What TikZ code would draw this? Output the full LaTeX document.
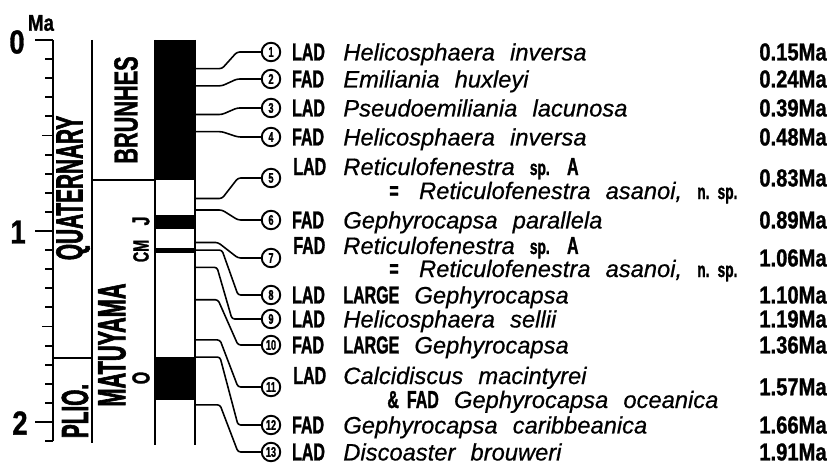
\documentclass[tikz,border=0pt]{standalone}
\usepackage{fontspec}
\setmainfont{Liberation Sans}[WordSpace=2.3,ItalicFeatures={FakeBold=0.6}]
\newfontfamily\condfont{Liberation Sans}[FakeStretch=0.65,FakeBold=1.2,WordSpace=1.8]
\newfontfamily\narrowfont{Liberation Sans}[FakeStretch=0.55,FakeBold=1.5]
\newfontfamily\valfont{Liberation Sans}[FakeStretch=0.82,FakeBold=1]
\usetikzlibrary{positioning}

\newcommand{\caps}[1]{{\condfont\bfseries\upshape\fontsize{14}{15}\selectfont #1}}
\newcommand{\spn}[1]{{\condfont\bfseries\upshape\fontsize{12}{12}\selectfont #1}}

\begin{document}
\begin{tikzpicture}[x=0.02cm,y=-0.02cm,
  colline/.style={line width=1.1pt},
  link/.style={line width=0.9pt,rounded corners=1.5pt},
  num/.style={circle,draw,line width=1.1pt,minimum size=0.37cm,inner sep=0pt,
    font=\condfont\bfseries\fontsize{8}{8}\selectfont},
  tag/.style={inner sep=0pt,font=\condfont\bfseries\fontsize{14}{15}\selectfont},
  taxon/.style={inner sep=0pt,anchor=base west,font=\itshape\fontsize{13.5}{15}\selectfont},
  age/.style={inner sep=0pt,anchor=east,font=\valfont\bfseries\fontsize{14}{15}\selectfont},
  big/.style={rotate=90,inner sep=0pt,font=\narrowfont\bfseries\fontsize{21.5}{22}\selectfont},
  small/.style={rotate=90,inner sep=0pt,font=\condfont\bfseries\fontsize{14}{14}\selectfont}]
  \useasboundingbox (0,0) rectangle (829,466);
  \coordinate (spx) at (343,0);
  \coordinate (valx) at (827,0);

  % time axis
  \draw[colline] (53,40) -- (53,441);
  \foreach \k in {0,...,21} \draw[colline] (53,{40+19.1*\k}) -- ++(-8,0);
  \foreach \k in {5,15} \draw[colline] (53,{40+19.1*\k}) -- ++(-11,0);
  \foreach \k in {0,10,20} \draw[colline] (53,{40+19.1*\k}) -- ++(-18,0);
  \node[inner sep=0pt,font=\valfont\bfseries\fontsize{19}{19}\selectfont] (l0) at (17,42) {0};
  \node[inner sep=0pt,font=\valfont\bfseries\fontsize{19}{19}\selectfont] (l1) at (18,232) {1};
  \node[inner sep=0pt,font=\valfont\bfseries\fontsize{19}{19}\selectfont] (l2) at (20,423) {2};
  \node[inner sep=0pt,font=\valfont\bfseries\fontsize{13}{13}\selectfont] (ma) at (41,23) {Ma};

  % epochs and chrons
  \draw[colline] (92,40) -- (92,443);
  \draw[colline] (53,358) -- (92,358);
  \draw[colline] (92,180) -- (155,180);
  \node[big] (quat) at (73,188) {QUATERNARY};
  \node[big] (plio) at (75,411) {PLIO.};
  \node[big,font=\condfont\bfseries\fontsize{19}{19}\selectfont] (brun) at (126,110) {BRUNHES};
  \node[big,font=\narrowfont\bfseries\fontsize{22.5}{22}\selectfont] (matu) at (112,345) {MATUYAMA};
  \node[small] (jar) at (141,221) {J};
  \node[small,font=\condfont\bfseries\fontsize{12.5}{12}\selectfont] (cobb) at (141,251) {CM};
  \node[small] (old) at (141,378) {O};

  % polarity column
  \fill (155,40) rectangle (195,180);
  \fill (155,215) rectangle (195,229);
  \fill (155,248) rectangle (195,253);
  \fill (155,357) rectangle (195,400);
  \draw[colline] (155,40) -- (155,445);
  \draw[colline] (195,40) -- (195,445);

  % datum levels
  \foreach \i/\yc/\lab/\txt/\val in {
    1/52/LAD/Helicosphaera inversa/0.15,
    2/79/FAD/Emiliania huxleyi/0.24,
    3/108/LAD/Pseudoemiliania lacunosa/0.39,
    4/137/FAD/Helicosphaera inversa/0.48,
    6/220/FAD/Gephyrocapsa parallela/0.89,
    8/295/LAD/\caps{LARGE} Gephyrocapsa/1.10,
    9/319/LAD/Helicosphaera sellii/1.19,
    10/345/FAD/\caps{LARGE} Gephyrocapsa/1.36,
    12/425/FAD/Gephyrocapsa caribbeanica/1.66,
    13/452/LAD/Discoaster brouweri/1.91}{
    \node[num] (c\i) at (271,\yc) {\i};
    \node[tag,right=6pt of c\i] (t\i) {\lab};
    \node[taxon] (n\i) at (t\i.base -| spx) {\txt};
    \node[age] (a\i) at (c\i -| valx) {\val Ma};
  }

  \node[num] (c5) at (271,178) {5};
  \node[tag,anchor=base west] (t5) at (293,175) {LAD};
  \node[taxon] (n5) at (t5.base -| spx) {Reticulofenestra \spn{sp.} \caps{A}};
  \node[taxon] (m5) at (389,199) {\caps{=}\hspace{3pt} Reticulofenestra asanoi, \spn{n. sp.}};
  \node[age] (a5) at (c5 -| valx) {0.83Ma};

  \node[num] (c7) at (271,258) {7};
  \node[tag,anchor=base west] (t7) at (293,254) {FAD};
  \node[taxon] (n7) at (t7.base -| spx) {Reticulofenestra \spn{sp.} \caps{A}};
  \node[taxon] (m7) at (389,277) {\caps{=}\hspace{3pt} Reticulofenestra asanoi, \spn{n. sp.}};
  \node[age] (a7) at (c7 -| valx) {1.06Ma};

  \node[num] (c11) at (271,387) {11};
  \node[tag,anchor=base west] (t11) at (293,384) {LAD};
  \node[taxon] (n11) at (t11.base -| spx) {Calcidiscus macintyrei};
  \node[taxon] (m11) at (387,408) {\caps{\& FAD} Gephyrocapsa oceanica};
  \node[age] (a11) at (c11 -| valx) {1.57Ma};

  % connectors from the column to the numbered levels
  \foreach \i/\t/\xa/\xb/\yc in {1/0.15/222/237/52, 2/0.24/222/237/79,
      3/0.39/222/237/108, 4/0.48/222/238/137, 5/0.83/222/238/178,
      6/0.89/222/238/220, 7/1.06/218/238/258, 8/1.10/222/238/295,
      9/1.19/217/232/319, 10/1.36/218/238/345, 11/1.57/220/238/387,
      12/1.66/220/238/425, 13/1.91/220/238/452}{
    \coordinate (s\i) at (195,{40+191*\t});
    \draw[link] (s\i) -- (\xa,{40+191*\t}) -- (\xb,\yc) -- (c\i);
  }
\end{tikzpicture}
\end{document}
